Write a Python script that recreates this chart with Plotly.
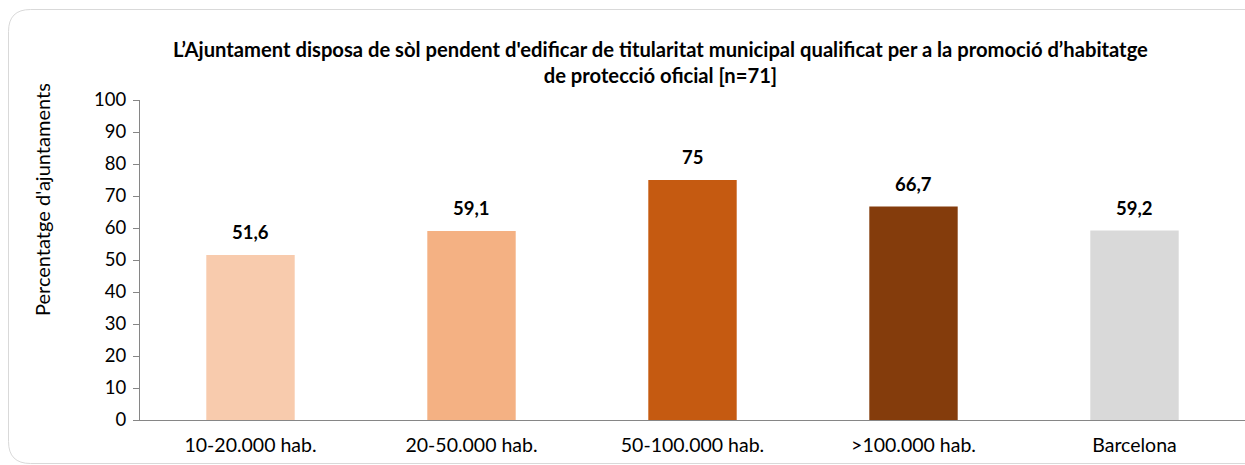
import plotly.graph_objects as go

categories = ["10-20.000 hab.", "20-50.000 hab.", "50-100.000 hab.", ">100.000 hab.", "Barcelona"]
values = [51.6, 59.1, 75, 66.7, 59.2]
value_labels = ["51,6", "59,1", "75", "66,7", "59,2"]
colors = ["#F8CBAD", "#F4B183", "#C55A11", "#843C0C", "#D9D9D9"]
y_ticks = [0, 10, 20, 30, 40, 50, 60, 70, 80, 90, 100]

W, H = 1245, 465
ML, MT, MR, MB = 140, 100, 0, 45
PW, PH = W - ML - MR, H - MT - MB

def px(x):
    return (x - ML) / PW

def py(y):
    return (H - MB - y) / PH

FONT = "Lato"

fig = go.Figure()
fig.add_trace(go.Bar(
    x=categories, y=values,
    marker=dict(color=colors, line=dict(width=0)),
    width=0.4,
    hoverinfo="skip",
))

for c, v, t in zip(categories, values, value_labels):
    fig.add_annotation(x=c, y=v, xref="x", yref="y", text=f"<b>{t}</b>",
                       showarrow=False, yanchor="middle", yshift=23,
                       font=dict(family=FONT, size=18.5, color="#000000"))

# title
fig.add_annotation(
    x=px(660), y=py(62), xref="paper", yref="paper",
    text="<b>L’Ajuntament disposa de sòl pendent d'edificar de titularitat municipal qualificat per a la promoció d’habitatge<br>de protecció oficial [n=71]</b>",
    showarrow=False, xanchor="center", yanchor="middle", align="center",
    font=dict(family=FONT, size=20.2, color="#000000"))

# y axis title
fig.add_annotation(
    x=px(42), y=py(200), xref="paper", yref="paper",
    text="Percentatge d'ajuntaments", textangle=-90,
    showarrow=False, xanchor="center", yanchor="middle",
    font=dict(family=FONT, size=20, color="#000000"))

# rounded border on the left; top and bottom edges run off the page
x0, xr = px(8.5), 1.0
y0, y1 = py(463.5), py(9.5)
rx, ry = 22 / PW, 22 / PH
border = dict(color="#D9D9D9", width=1)
fig.add_shape(type="line", x0=x0 + rx, x1=xr, y0=y1, y1=y1,
              xref="paper", yref="paper", line=border, layer="below")
fig.add_shape(type="line", x0=x0 + rx, x1=xr, y0=y0, y1=y0,
              xref="paper", yref="paper", line=border, layer="below")
fig.add_shape(type="path", xref="paper", yref="paper", line=border, layer="below",
              path=(f"M {x0+rx},{y1} Q {x0},{y1} {x0},{y1-ry} "
                    f"L {x0},{y0+ry} Q {x0},{y0} {x0+rx},{y0}"))

fig.update_layout(
    width=W, height=H,
    margin=dict(l=ML, r=MR, t=MT, b=MB, autoexpand=False),
    paper_bgcolor="white", plot_bgcolor="white",
    showlegend=False,
    font=dict(family=FONT, size=18, color="#000000"),
)
fig.update_xaxes(
    showline=True, linecolor="#868686", linewidth=1,
    ticks="", showgrid=False, zeroline=False,
    tickfont=dict(family=FONT, size=19.5, color="#000000"),
    ticklabelstandoff=8,
)
fig.update_yaxes(
    range=[0, 100], tickvals=y_ticks,
    showline=True, linecolor="#868686", linewidth=1,
    ticks="outside", ticklen=6, tickcolor="#868686",
    showgrid=False, zeroline=False,
    tickfont=dict(family=FONT, size=18.5, color="#000000"),
    ticklabelstandoff=3,
)

fig.write_html(
    "out.html",
    config={"displayModeBar": False},
    post_script="document.body.style.margin='0';document.body.style.overflow='hidden';",
)
